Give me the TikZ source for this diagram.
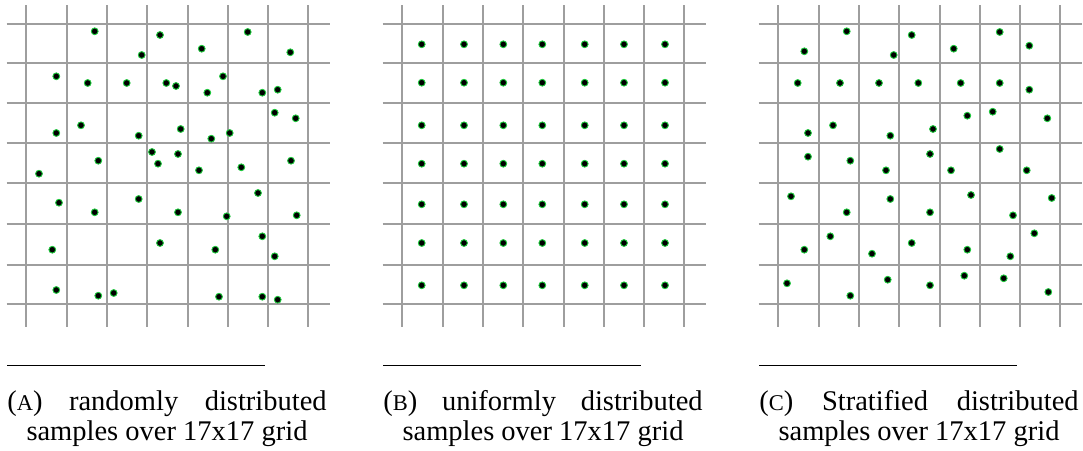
\documentclass[tikz,border=0pt]{standalone}
\usepackage{fontspec}
\setmainfont{Liberation Serif}

\definecolor{gridgray}{RGB}{158,158,158}
\definecolor{ringgreen}{RGB}{30,200,60}

\tikzset{
  gridline/.style={draw=gridgray, line width=1.8},
  sample/.style={fill=black, draw=ringgreen, line width=0.9},
  rulestyle/.style={draw=black, line width=1.1},
  capfont/.style={font=\fontsize{28.5}{31}\selectfont, inner sep=0pt, outer sep=0pt},
  % 7x7 cells, lines overhanging the outer cells
  samplegrid/.pic={
    \foreach \gx in {0,41,81.3,121.6,162,202.3,242.6,282.3}
      \draw[gridline] (\gx,5) -- (\gx,327);
    \foreach \gy in {24.3,62.7,103,143.3,183.3,223.7,265,304.3}
      \draw[gridline] (-19,\gy) -- (304,\gy);
  },
}

% small capitals for the sub-figure letters
\newcommand\subletter[1]{{\fontsize{22.5}{31}\selectfont #1}}

% rule and two-line caption under one panel
\newcommand\panelcaption[4]{%
  \begin{scope}[shift={(#1,0)}]
    \draw[rulestyle] (-18.4,365.7) -- (239.3,365.7);
    \node[capfont, anchor=base west] (#2top) at (-18.4,410)
      {\makebox[319.4pt]{(\subletter{#3})\hfill #4\hfill distributed}};
    \node[capfont, anchor=base] (#2bottom) at (141.3,440.5)
      {samples over 17x17 grid};
  \end{scope}}

\begin{document}
\begin{tikzpicture}[x=1pt, y=-1pt]
  \useasboundingbox (0,0) rectangle (1083,450);

  % grids
  \pic at (25.7,0) {samplegrid};
  \pic at (401.7,0) {samplegrid};
  \pic at (777.7,0) {samplegrid};

  % (a) random samples
  \foreach \sx/\sy in {
    94.7/31.3, 160/35, 247.7/32, 141.7/55, 201.7/48.7, 290.3/52.3,
    56.3/76.3, 87.7/83, 126.7/83, 166.3/83, 176/86, 223/76.3, 207.3/92.7, 262.3/92.7, 277.7/89.7,
    274.7/112.7, 295.7/118.3, 81/125.3, 56.3/133, 138.7/135.7, 180.7/129, 211.3/138.7, 229.7/133,
    152/152, 178/154, 158/163.7, 98.3/160.7, 39/173.7, 199/170.3, 241.3/167.3, 291/160.7,
    258/193, 59/202.7, 138.7/199, 94.7/212.3, 178/212.3, 226.7/216.3, 296.7/215.3,
    262.3/236.3, 160/243, 52.3/249.7, 215.3/249.7, 274.7/256.3,
    56.3/290, 98.3/295.7, 113.7/293, 219/296.7, 262.3/296.7, 277.7/299.7}
    \filldraw[sample] (\sx,\sy) circle (3.4);

  % (b) one sample at the centre of every cell
  \foreach \sx in {421.7,464,503.3,542.3,584.7,624,665}
    \foreach \sy in {44.3,82.7,125.3,163.7,204.3,243,285.3}
      \filldraw[sample] (\sx,\sy) circle (3.4);

  % (c) stratified samples, one jittered sample per cell
  \foreach \sx/\sy in {
    846.7/31.3, 911.7/35, 999.7/32, 804.3/51.3, 893.7/55, 953.7/48.7, 1029.3/45.7,
    797.7/83, 840/83, 879/83, 918.3/83, 960.7/83, 999.7/83, 1029.3/89.7,
    967.3/115.7, 992.7/111.7, 1047.3/118.3, 833/125.3, 808/133, 890.3/135.7, 933/129,
    808/156.7, 850.3/160.7, 886/170.3, 930/154, 951/170.3, 999.7/149, 1026.7/170.3,
    791/196.3, 846.7/212.3, 890.3/199, 930/212.3, 971/195, 1013/215.3, 1051.7/198,
    830.3/236.3, 804.3/249.7, 872/253.7, 911.7/243, 967.3/249.7, 1010.3/256.3, 1034.3/233.3,
    787/283.3, 850.3/295.7, 887.7/279.7, 930/285.3, 964.3/275.7, 1003.7/278.3, 1048.3/292}
    \filldraw[sample] (\sx,\sy) circle (3.4);

  % captions
  \panelcaption{25.7}{capa}{A}{randomly}
  \panelcaption{401.7}{capb}{B}{uniformly}
  \panelcaption{777.7}{capc}{C}{Stratified}
\end{tikzpicture}
\end{document}
